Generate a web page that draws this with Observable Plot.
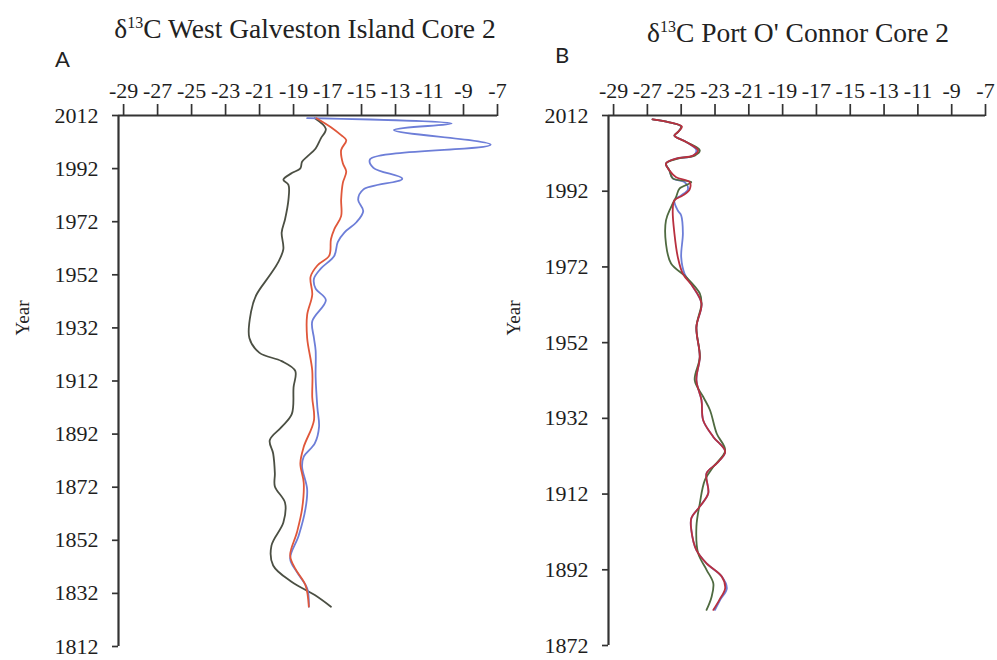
<!DOCTYPE html>
<html>
<head>
<meta charset="utf-8">
<script src="https://cdn.jsdelivr.net/npm/d3@7"></script>
<script src="https://cdn.jsdelivr.net/npm/@observablehq/plot@0.6"></script>
<style>
  html, body { margin: 0; padding: 0; background: #fff; }
  #wrap { position: relative; width: 997px; height: 660px; overflow: hidden; font-family: "Liberation Serif", serif; color: #222; }
  .abs { position: absolute; white-space: nowrap; }
  .title { font-size: 27.5px; transform: translate(-50%, -50%); }
  .title sup { font-size: 16px; vertical-align: 0; position: relative; top: -10px; }
  .panel { font-family: "Lato", "Liberation Sans", sans-serif; font-size: 22px; }
  .ylab { font-size: 19px; transform: translate(-50%, -50%) rotate(-90deg); }
</style>
</head>
<body>
<div id="wrap"></div>
<script>
// ---------- Data ----------
const xTicks = [-29, -27, -25, -23, -21, -19, -17, -15, -13, -11, -9, -7];
const yTicksA = [1812, 1832, 1852, 1872, 1892, 1912, 1932, 1952, 1972, 1992, 2012];
const yTicksB = [1872, 1892, 1912, 1932, 1952, 1972, 1992, 2012];

// Panel A: West Galveston Island Core 2
const yearsA_blue = [2011, 2009, 2006.5, 2001, 1995.5, 1992.3, 1988.2, 1984.1, 1980.3, 1976, 1971.8, 1968, 1964.3, 1959.2, 1954.3, 1950.5, 1946.8, 1942.5, 1934.5, 1928.2, 1923.4, 1913.3, 1902.1, 1894.7, 1888.5, 1883.5, 1879.8, 1871.2, 1863.8, 1853.7, 1845.1, 1840, 1833.9, 1827];
const valsA_blue  = [-18.2, -9.7, -13.1, -7.4, -14.5, -14.3, -12.6, -14.9, -15.2, -14.9, -15.3, -16.0, -16.4, -16.6, -17.4, -17.8, -17.7, -17.1, -17.9, -17.8, -17.7, -17.7, -17.6, -17.5, -17.75, -18.4, -18.5, -18.2, -18.3, -18.7, -19.2, -18.8, -18.2, -18.1];

const yearsA_red = [2011, 2007.6, 2004.6, 2002.7, 1999, 1994, 1990.9, 1986.6, 1980.3, 1974.1, 1969.2, 1965.4, 1959.2, 1955.5, 1951.2, 1944.5, 1936.9, 1928.2, 1915.9, 1905.9, 1897.2, 1887.2, 1881, 1873.6, 1863.7, 1855, 1846.3, 1841.3, 1835.1, 1827];
const valsA_red  = [-17.65, -16.8, -16.2, -15.9, -16.2, -16.1, -15.9, -16.1, -16.2, -16.2, -16.6, -16.8, -16.9, -17.6, -18.0, -17.9, -18.2, -18.2, -17.9, -17.9, -17.8, -18.4, -18.6, -18.4, -18.5, -18.8, -19.2, -18.9, -18.3, -18.1];

const yearsA_dark = [2011, 2007, 2003.3, 1999.6, 1996.5, 1994.6, 1992.1, 1990.3, 1987.8, 1985.9, 1980.3, 1972.9, 1967.9, 1961.7, 1956.8, 1951.8, 1944.3, 1938.1, 1928.2, 1922.6, 1919.5, 1915.8, 1909.6, 1899.6, 1894.7, 1889.7, 1884.7, 1877.3, 1872.3, 1866.1, 1858.7, 1850, 1842.5, 1836.3, 1831.4, 1827];
const valsA_dark  = [-17.75, -17.1, -17.4, -17.7, -18.2, -18.5, -18.6, -19.1, -19.6, -19.3, -19.3, -19.5, -19.7, -19.6, -19.9, -20.4, -21.2, -21.5, -21.6, -21.0, -19.7, -18.9, -19.0, -19.1, -19.7, -20.4, -20.2, -20.1, -20.1, -19.5, -19.6, -20.3, -20.2, -19.1, -17.75, -16.8];

// Panel B: Port O' Connor Core 2
const yearsB_red = [2011, 2010.2, 2009.1, 2007.6, 2006.7, 2005, 2002.8, 2001.4, 2000.6, 1999.3, 1997.5, 1995.7, 1994.4, 1992.5, 1990.9, 1989.6, 1986.9, 1980.8, 1974.6, 1970.2, 1966.7, 1962.3, 1956.1, 1948.2, 1942.1, 1936.8, 1931.5, 1927.1, 1923.2, 1920.1, 1917.5, 1912.2, 1908.7, 1905.6, 1902.5, 1897.2, 1893.7, 1890.2, 1887.1, 1884, 1881.4];
const valsB_red  = [-26.7, -25.7, -24.96, -25.2, -25.4, -24.7, -24.0, -24.3, -25.3, -25.9, -25.7, -25.3, -24.5, -24.5, -24.9, -25.4, -25.5, -25.4, -25.2, -24.9, -24.3, -23.8, -24.1, -23.9, -24.1, -23.8, -23.7, -23.1, -22.4, -22.9, -23.5, -23.4, -23.9, -24.4, -24.4, -24.1, -23.5, -22.6, -22.4, -22.75, -23.1];

const yearsB_green = [2011, 2010.2, 2009.1, 2007.6, 2006.7, 2005, 2002.8, 2001.4, 2000.6, 1999.3, 1997.5, 1995.4, 1994.4, 1992.7, 1990.5, 1987.8, 1984.3, 1978.1, 1972.9, 1969.3, 1965, 1962.3, 1956.1, 1948.2, 1942.1, 1937.7, 1934.2, 1928, 1923.5, 1919.2, 1915.7, 1909.5, 1903.4, 1896.4, 1892, 1888.4, 1884.9, 1881.4];
const valsB_green  = [-26.7, -25.7, -25.0, -25.2, -25.4, -24.7, -23.9, -24.2, -25.2, -25.9, -25.7, -25.5, -24.4, -25.1, -25.3, -25.6, -25.9, -25.9, -25.6, -24.7, -23.9, -23.8, -24.1, -23.9, -24.2, -23.7, -23.3, -22.9, -22.4, -23.1, -23.6, -23.9, -24.1, -24.0, -23.5, -23.1, -23.2, -23.5];

const yearsB_blue = [2011, 2010.2, 2009.1, 2007.6, 2006.7, 2005, 2002.8, 2001.4, 2000.6, 1999.3, 1997.5, 1995.4, 1994.4, 1992.5, 1990.9, 1989.6, 1986.9, 1985.6, 1980.9, 1974.6, 1970.2, 1966.7, 1962.3, 1956.1, 1948.2, 1942.1, 1936.8, 1931.5, 1927.1, 1923.2, 1920.1, 1917.5, 1912.2, 1908.7, 1905.6, 1902.5, 1897.2, 1893.7, 1890.2, 1887.1, 1884, 1881.4];
const valsB_blue  = [-26.7, -25.7, -25.0, -25.2, -25.4, -24.7, -24.1, -24.3, -25.3, -25.9, -25.7, -25.5, -24.8, -24.6, -25.0, -25.4, -25.2, -25.0, -24.9, -25.0, -24.8, -24.3, -23.8, -24.1, -23.9, -24.1, -23.8, -23.7, -23.1, -22.4, -22.9, -23.5, -23.4, -23.9, -24.4, -24.4, -24.1, -23.5, -22.6, -22.3, -22.7, -23.0];

// ---------- Helpers ----------
const rows = (years, vals) => years.map((y, i) => ({year: y, value: vals[i]}));
const fmt = d => String(d);
const axisColor = "#333";

function panel({width, marginLeft, marginRight, marginBottom, yDomain, yTicks, series}) {
  return Plot.plot({
    width, height: 660,
    marginTop: 115, marginLeft, marginRight, marginBottom,
    style: {fontFamily: "Liberation Serif", fontSize: "22px", color: "#1e1e1e", background: "transparent", overflow: "visible"},
    x: {domain: [-29.3, -7]},
    y: {domain: yDomain},
    marks: [
      Plot.axisX({anchor: "top", ticks: xTicks, tickFormat: fmt, tickSize: 12, tickPadding: 6, label: null, strokeWidth: 1.7, stroke: axisColor}),
      Plot.axisY({anchor: "left", ticks: yTicks, tickFormat: fmt, tickSize: 6, tickPadding: 14, label: null, strokeWidth: 1.7, stroke: axisColor}),
      Plot.ruleY([yDomain[1]], {stroke: axisColor, strokeWidth: 2.2}),
      Plot.ruleX([-29.3], {stroke: axisColor, strokeWidth: 2.2}),
      ...series.map(s => Plot.line(rows(s.years, s.vals), {x: "value", y: "year", stroke: s.color, strokeWidth: 1.8, curve: "catmull-rom"}))
    ]
  });
}

const wrap = document.getElementById("wrap");

const plotA = panel({
  width: 500, marginLeft: 118, marginRight: 3, marginBottom: 14,
  yDomain: [1812, 2012], yTicks: yTicksA,
  series: [
    {years: yearsA_dark, vals: valsA_dark, color: "#4b4f43"},
    {years: yearsA_blue, vals: valsA_blue, color: "#6d7ed8"},
    {years: yearsA_red, vals: valsA_red, color: "#e0573a"}
  ]
});
plotA.style.position = "absolute"; plotA.style.left = "0px"; plotA.style.top = "0px";
wrap.appendChild(plotA);

const plotB = panel({
  width: 507, marginLeft: 118, marginRight: 12, marginBottom: 15,
  yDomain: [1872, 2012], yTicks: yTicksB,
  series: [
    {years: yearsB_blue, vals: valsB_blue, color: "#6d7ed8"},
    {years: yearsB_green, vals: valsB_green, color: "#4f6a40"},
    {years: yearsB_red, vals: valsB_red, color: "#b8303f"}
  ]
});
plotB.style.position = "absolute"; plotB.style.left = "490px"; plotB.style.top = "0px";
wrap.appendChild(plotB);

function addText(html, cls, left, top) {
  const d = document.createElement("div");
  d.className = "abs " + cls;
  d.innerHTML = html;
  d.style.left = left + "px"; d.style.top = top + "px";
  wrap.appendChild(d);
}
addText("δ<sup>13</sup>C West Galveston Island Core 2", "title", 305, 29);
addText("δ<sup>13</sup>C Port O' Connor Core 2", "title", 798, 33);
addText("A", "panel", 55, 45);
addText("B", "panel", 555, 41);
addText("Year", "ylab", 23, 318);
addText("Year", "ylab", 514, 318);
</script>
</body>
</html>
